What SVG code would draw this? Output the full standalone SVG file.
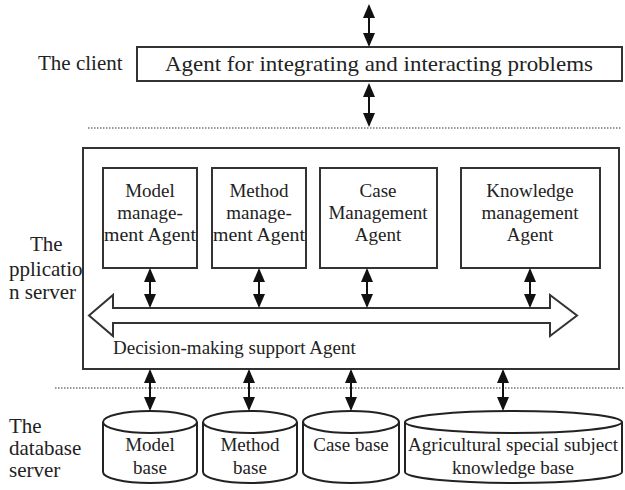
<svg xmlns="http://www.w3.org/2000/svg" width="625" height="490" viewBox="0 0 625 490">
<style>
text{font-family:"Liberation Serif","Times New Roman",serif;fill:#222;}
.lbl{font-size:21px;}
.in{font-size:19px;text-anchor:middle;}
.box{fill:#fff;stroke:#333;stroke-width:2;}
.cyl{fill:#fff;stroke:#222;stroke-width:2;}
.arr{stroke:#111;stroke-width:2;fill:none;marker-start:url(#ah);marker-end:url(#ah);}
.dot{stroke:#777;stroke-width:1.5;stroke-dasharray:1.5,1.5;fill:none;}
</style>
<defs>
<marker id="ah" viewBox="0 0 14 12" refX="12" refY="6" markerWidth="14" markerHeight="12" markerUnits="userSpaceOnUse" orient="auto-start-reverse">
<path d="M0,0 L14,6 L0,12 z" fill="#111"/>
</marker>
</defs>
<rect width="625" height="490" fill="#fff"/>

<g id="labels">
<text class="lbl" x="38" y="70">The client</text>
<text class="lbl" x="30" y="251">The</text>
<text class="lbl" x="9" y="276">pplicatio</text>
<text class="lbl" x="9" y="299">n server</text>
<text class="lbl" x="9" y="433">The</text>
<text class="lbl" x="9" y="455">database</text>
<text class="lbl" x="9" y="477">server</text>
</g>

<g id="separators">
<line class="dot" x1="88" y1="128" x2="622" y2="128"/>
<line class="dot" x1="55" y1="388" x2="625" y2="388"/>
</g>

<g id="client">
<rect class="box" x="137" y="47" width="485" height="34"/>
<text class="lbl" x="379" y="71" text-anchor="middle" textLength="428" lengthAdjust="spacingAndGlyphs">Agent for integrating and interacting problems</text>
</g>

<g id="app-server">
<rect class="box" x="83" y="148" width="536" height="221"/>
</g>

<g id="model-agent">
<rect class="box" x="103" y="168" width="94" height="100"/>
<text class="in" x="150" y="197">Model</text>
<text class="in" x="150" y="219">manage-</text>
<text class="in" x="150" y="241" textLength="92" lengthAdjust="spacingAndGlyphs">ment Agent</text>
</g>
<g id="method-agent">
<rect class="box" x="212" y="168" width="94" height="100"/>
<text class="in" x="259" y="197">Method</text>
<text class="in" x="259" y="219">manage-</text>
<text class="in" x="259" y="241" textLength="92" lengthAdjust="spacingAndGlyphs">ment Agent</text>
</g>
<g id="case-agent">
<rect class="box" x="320" y="168" width="117" height="100"/>
<text class="in" x="378" y="197">Case</text>
<text class="in" x="378" y="219">Management</text>
<text class="in" x="378" y="241">Agent</text>
</g>
<g id="knowledge-agent">
<rect class="box" x="461" y="168" width="139" height="100"/>
<text class="in" x="530" y="197">Knowledge</text>
<text class="in" x="530" y="219">management</text>
<text class="in" x="530" y="241">Agent</text>
</g>

<g id="decision-agent">
<polygon points="89,315.5 113,295 113,308 550,308 550,295 577,315.5 550,336 550,323 113,323 113,336" fill="#fff" stroke="#333" stroke-width="2" stroke-linejoin="miter"/>
<text x="113" y="354" style="font-size:19px">Decision-making support Agent</text>
</g>

<g id="model-base">
<path class="cyl" d="M103,422 A47,11 0 0 1 197,422 L197,472 A47,11 0 0 1 103,472 Z M103,422 A47,11 0 0 0 197,422"/>
<text class="in" x="150" y="451">Model</text>
<text class="in" x="150" y="474">base</text>
</g>
<g id="method-base">
<path class="cyl" d="M203,422 A47,11 0 0 1 297,422 L297,472 A47,11 0 0 1 203,472 Z M203,422 A47,11 0 0 0 297,422"/>
<text class="in" x="250" y="451">Method</text>
<text class="in" x="250" y="474">base</text>
</g>
<g id="case-base">
<path class="cyl" d="M303,422 A48,11 0 0 1 399,422 L399,472 A48,11 0 0 1 303,472 Z M303,422 A48,11 0 0 0 399,422"/>
<text class="in" x="351" y="451">Case base</text>
</g>
<g id="agri-base">
<path class="cyl" d="M405,422 A108.5,11 0 0 1 622,422 L622,472 A108.5,11 0 0 1 405,472 Z M405,422 A108.5,11 0 0 0 622,422"/>
<text class="in" x="513" y="451" textLength="210" lengthAdjust="spacingAndGlyphs">Agricultural special subject</text>
<text class="in" x="513" y="474">knowledge base</text>
</g>

<g id="connectors">
<line class="arr" x1="369" y1="6" x2="369" y2="45"/>
<line class="arr" x1="369" y1="85" x2="369" y2="125"/>
<line class="arr" x1="150" y1="270" x2="150" y2="306"/>
<line class="arr" x1="259" y1="270" x2="259" y2="306"/>
<line class="arr" x1="367" y1="270" x2="367" y2="306"/>
<line class="arr" x1="530" y1="270" x2="530" y2="306"/>
<line class="arr" x1="150" y1="371" x2="150" y2="409"/>
<line class="arr" x1="249" y1="371" x2="249" y2="409"/>
<line class="arr" x1="351" y1="371" x2="351" y2="409"/>
<line class="arr" x1="503" y1="371" x2="503" y2="409"/>
</g>
</svg>
